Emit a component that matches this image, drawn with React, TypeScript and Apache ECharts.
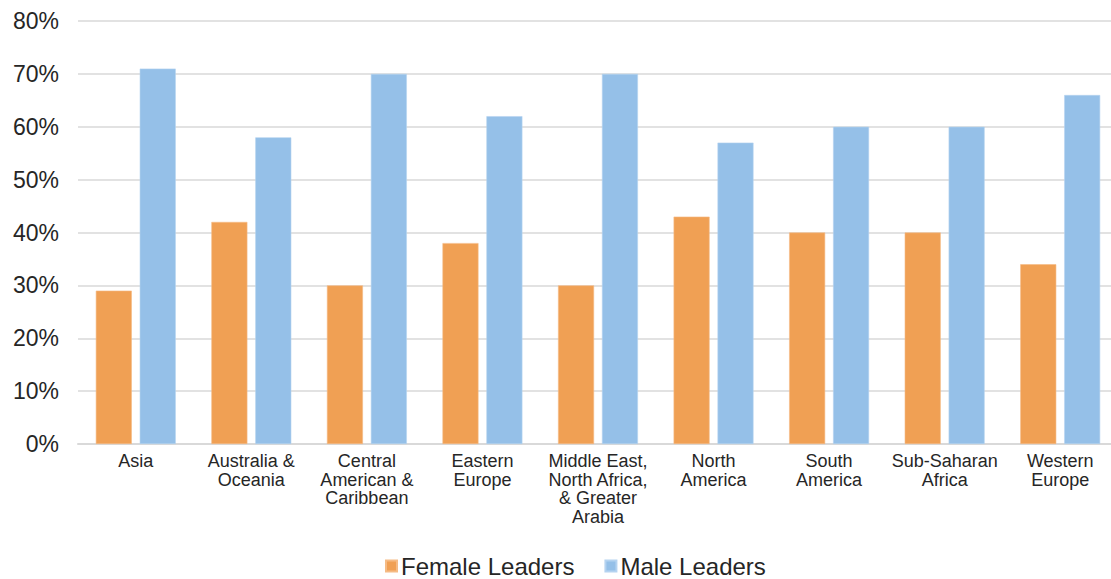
import React, { useEffect, useRef } from "react";
import * as echarts from "echarts";

const categories = [
  "Asia",
  "Australia &\nOceania",
  "Central\nAmerican &\nCaribbean",
  "Eastern\nEurope",
  "Middle East,\nNorth Africa,\n& Greater\nArabia",
  "North\nAmerica",
  "South\nAmerica",
  "Sub-Saharan\nAfrica",
  "Western\nEurope",
];
const femaleLeaders = [29, 42, 30, 38, 30, 43, 40, 40, 34];
const maleLeaders = [71, 58, 70, 62, 70, 57, 60, 60, 66];
const yTicks = { min: 0, max: 80, interval: 10 };

const FONT = "'Liberation Sans', Arial, Helvetica, sans-serif";
const TEXT = "#262626";

export default function App() {
  const ref = useRef<HTMLDivElement>(null);
  useEffect(() => {
    if (!ref.current) return;
    const chart = echarts.init(ref.current, undefined, { renderer: "svg" });
    chart.setOption({
      animation: false,
      backgroundColor: "#ffffff",
      textStyle: { fontFamily: FONT },
      grid: { left: 78, top: 21, right: 0, height: 423, containLabel: false },
      legend: {
        left: 385,
        top: 554,
        padding: 0,
        itemWidth: 11,
        itemHeight: 11,
        itemGap: 30,
        icon: "rect",
        textStyle: { fontSize: 24, color: TEXT, fontFamily: FONT, padding: [0, 0, 0, -1] },
        data: ["Female Leaders", "Male Leaders"],
      },
      xAxis: {
        type: "category",
        data: categories,
        axisLine: { show: true, lineStyle: { color: "#d9d9d9", width: 2 } },
        axisTick: { show: false },
        axisLabel: {
          interval: 0,
          fontSize: 18,
          lineHeight: 18.5,
          color: TEXT,
          fontFamily: FONT,
          margin: 8,
          align: "center",
        },
      },
      yAxis: {
        type: "value",
        min: yTicks.min,
        max: yTicks.max,
        interval: yTicks.interval,
        axisLine: { show: false },
        axisTick: { show: false },
        splitLine: { lineStyle: { color: "#d9d9d9", width: 1.7 } },
        axisLabel: {
          formatter: "{value}%",
          fontSize: 23,
          color: TEXT,
          fontFamily: FONT,
          margin: 19,
        },
      },
      series: [
        {
          name: "Female Leaders",
          type: "bar",
          data: femaleLeaders,
          barWidth: 36,
          barGap: "22%",
          itemStyle: { color: "#F0A054", borderColor: "#F5BB85", borderWidth: 0.6 },
        },
        {
          name: "Male Leaders",
          type: "bar",
          data: maleLeaders,
          barWidth: 36,
          barGap: "22%",
          itemStyle: { color: "#95C0E8", borderColor: "#B5D3F0", borderWidth: 0.6 },
        },
      ],
    });
    return () => chart.dispose();
  }, []);
  return (
    <div
      style={{
        position: "absolute",
        left: 0,
        top: 0,
        width: 1111,
        height: 579,
        overflow: "hidden",
        background: "#fff",
      }}
    >
      <div ref={ref} style={{ width: 1117.5, height: 579 }} />
    </div>
  );
}
